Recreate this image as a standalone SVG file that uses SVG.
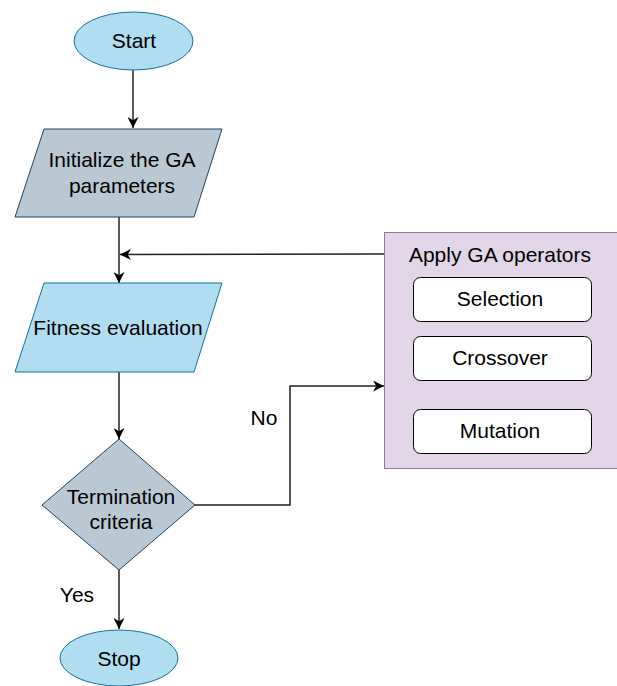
<svg xmlns="http://www.w3.org/2000/svg" width="617" height="686" viewBox="0 0 617 686">
<defs>
<marker id="ah" viewBox="0 0 10 10" refX="10" refY="5" markerWidth="11" markerHeight="11" markerUnits="userSpaceOnUse" orient="auto">
<path d="M0,0 L10,5 L0,10 L3,5 Z" fill="#000"/>
</marker>
<style>
text{font-family:"Liberation Sans",Arial,sans-serif;font-size:21px;fill:#000;text-anchor:middle;dominant-baseline:central}
.blue{fill:#b1ddf0;stroke:#10739e;stroke-width:1}
.grey{fill:#bac8d3;stroke:#23445d;stroke-width:1}
.op{fill:#fff;stroke:#000;stroke-width:1}
.c{fill:none;stroke:#222;stroke-width:1.5;marker-end:url(#ah)}
</style>
</defs>
<g id="operators">
<rect x="384.5" y="232.5" width="240" height="236" fill="#e1d5e7" stroke="#9673a6"/>
<text x="500" y="254">Apply GA operators</text>
</g>
<g id="selection"><rect class="op" x="413.5" y="277.5" width="178" height="44" rx="7"/><text x="500" y="298">Selection</text></g>
<g id="crossover"><rect class="op" x="413.5" y="336.5" width="178" height="44" rx="7"/><text x="500" y="357">Crossover</text></g>
<g id="mutation"><rect class="op" x="413.5" y="409.5" width="178" height="44" rx="7"/><text x="500" y="430">Mutation</text></g>
<g id="connectors">
<path class="c" d="M133,70 L133,128"/>
<path class="c" d="M119,217 L119,283"/>
<path class="c" d="M384,254 L120,254.5"/>
<path class="c" d="M119,372 L119,439"/>
<path class="c" d="M195,505 L290,505 L290,386 L384,386"/>
<path class="c" d="M119,570 L119,629"/>
<text x="264" y="417">No</text>
<text x="77" y="594">Yes</text>
</g>
<g id="start"><ellipse class="blue" cx="133.5" cy="41" rx="59.5" ry="29"/><text x="134" y="40">Start</text></g>
<g id="init"><polygon class="grey" points="44,129 222,129 194,217 15,217"/><text x="122" y="159">Initialize the GA</text><text x="122" y="185">parameters</text></g>
<g id="fitness"><polygon class="blue" points="44,283 222,283 194,372 15,372"/><text x="118" y="327">Fitness evaluation</text></g>
<g id="decision"><polygon class="grey" points="119,439 195,505 119,570 42,505"/><text x="121" y="496">Termination</text><text x="121" y="521">criteria</text></g>
<g id="stop"><ellipse class="blue" cx="119" cy="658" rx="59" ry="28"/><text x="119" y="658">Stop</text></g>
</svg>
